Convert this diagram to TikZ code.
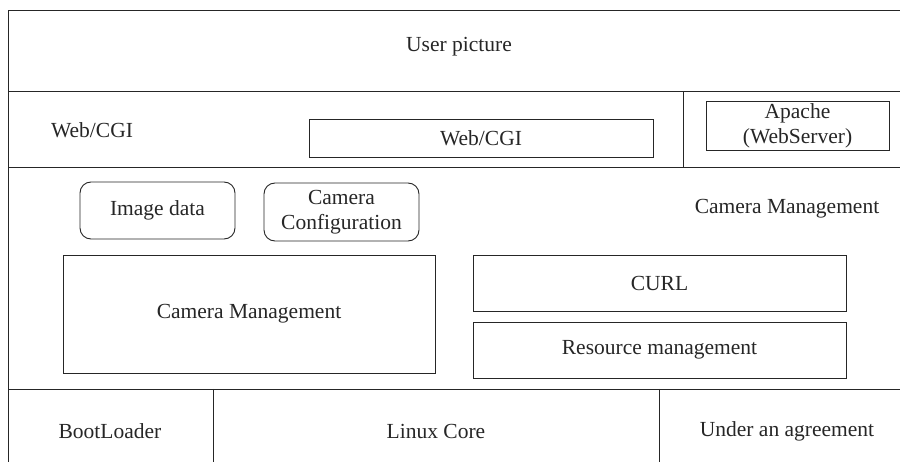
\documentclass[tikz,border=0pt]{standalone}
\usepackage{fontspec}
\setmainfont{Liberation Serif}
\begin{document}
\begin{tikzpicture}[x=1pt,y=-1pt,
  frame/.style={line width=0.9pt,draw=black!85},
  box/.style={frame,rectangle,inner sep=0pt,align=center,text=black!85},
  rbox/.style={box,rounded corners=11pt},
  lbl/.style={inner sep=0pt,align=center,text=black!85},
  every node/.style={font=\fontsize{21.5}{25}\selectfont}]
\useasboundingbox (0,0) rectangle (900,462);

% layer frame: left edge, top edge and layer separators
\draw[frame] (900,10) -- (8,10) -- (8,462);
\draw[frame] (8,91.5) -- (900,91.5);
\draw[frame] (8,167.5) -- (900,167.5);
\draw[frame] (8,389) -- (900,389);
\draw[frame] (683,91.5) -- (683,167.5);
\draw[frame] (213,389) -- (213,462);
\draw[frame] (659,389) -- (659,462);

% top layer
\node[lbl] (user) at (459,47) {User picture};

% web layer
\node[lbl] (weblbl) at (92,130) {Web/CGI};
\node[box,minimum width=344pt,minimum height=38pt] (web) at (481,138) {Web/CGI};
\node[box,minimum width=183pt,minimum height=49pt] (apache) at (797.5,125.5) {Apache\\(WebServer)};

% camera management layer
\node[lbl] (camlbl) at (787,209) {Camera Management};
\node[rbox,minimum width=155pt,minimum height=57pt] (img) at (157.5,210.5) {Image data};
\node[rbox,minimum width=155pt,minimum height=58pt] (conf) at (341.5,212) {Camera\\Configuration};
\node[box,minimum width=372pt,minimum height=118pt] (cam) at (249,314) {Camera Management};
\node[box,minimum width=373pt,minimum height=56pt] (curl) at (659.5,283) {CURL};
\node[box,minimum width=373pt,minimum height=56pt] (res) at (659.5,350) {Resource management};

% system layer
\node[lbl] (boot) at (110,431) {BootLoader};
\node[lbl] (linux) at (436,431) {Linux Core};
\node[lbl] (agree) at (787,431) {Under an agreement};
\end{tikzpicture}
\end{document}
